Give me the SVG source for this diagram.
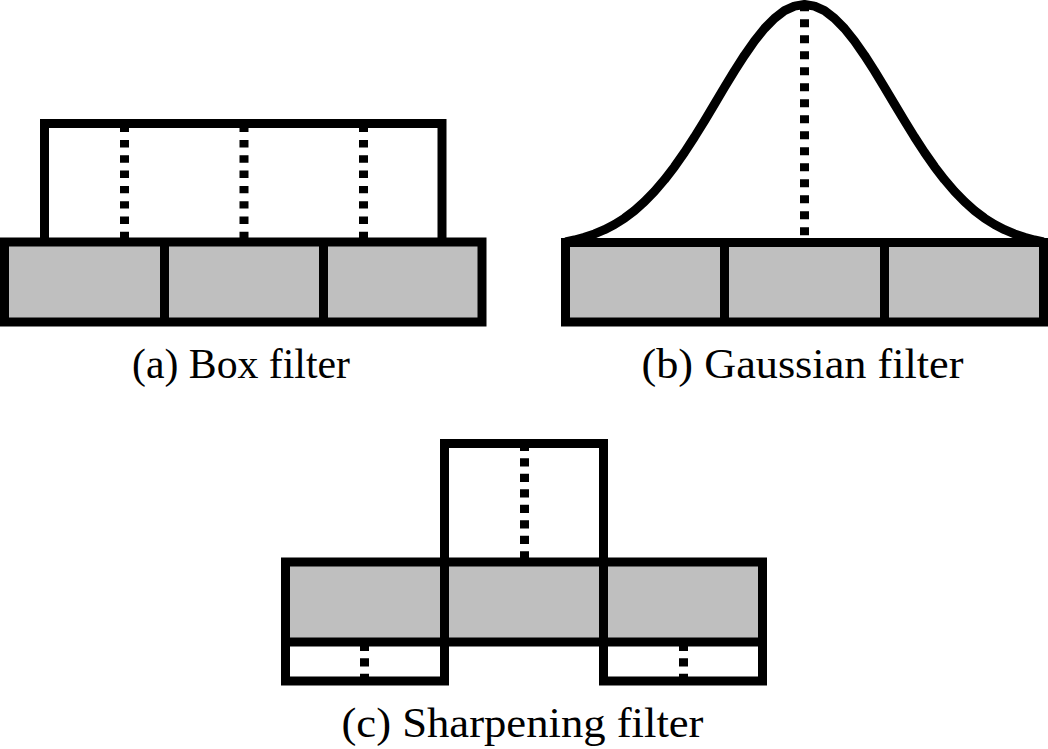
<svg xmlns="http://www.w3.org/2000/svg" width="1048" height="749" viewBox="0 0 1048 749">
  <style>
    .frame { fill: none; stroke: #000; stroke-width: 9; stroke-linejoin: miter; stroke-linecap: butt; }
    .cell { fill: #bfbfbf; stroke: #000; stroke-width: 9; stroke-linejoin: miter; }
    .div { stroke: #000; stroke-width: 9; }
    .dot { stroke: #000; stroke-width: 9; stroke-dasharray: 7.4 7.9; fill: none; }
    .dot2 { stroke: #000; stroke-width: 9; stroke-dasharray: 8 8; fill: none; }
    .dot3 { stroke: #000; stroke-width: 9; stroke-dasharray: 8.3 7.2; fill: none; }
    .curve { fill: none; stroke: #000; stroke-width: 9; stroke-linejoin: round; }
    .cap { font-family: "Liberation Serif", "Times New Roman", serif; font-size: 42px; fill: #000; text-anchor: middle; }
  </style>

  <g id="box-filter">
    <path class="frame" d="M44.5,242 V123.5 H442 V242"/>
    <line class="dot" x1="124.5" y1="124.7" x2="124.5" y2="242"/>
    <line class="dot" x1="244" y1="124.7" x2="244" y2="242"/>
    <line class="dot" x1="363.5" y1="124.7" x2="363.5" y2="242"/>
    <rect class="cell" x="4.5" y="242" width="477.5" height="80"/>
    <line class="div" x1="164.5" y1="242" x2="164.5" y2="322"/>
    <line class="div" x1="323.5" y1="242" x2="323.5" y2="322"/>
    <text class="cap" x="241" y="378" textLength="218" lengthAdjust="spacingAndGlyphs">(a) Box filter</text>
  </g>

  <g id="gaussian-filter">
    <path class="curve" d="M565.5,241.8 L574.5,240.0 L584.5,237.3 L594.5,233.9 L604.5,229.7 L614.5,224.5 L624.5,218.2 L634.5,210.6 L644.5,201.7 L654.5,191.4 L664.5,179.7 L674.5,166.7 L684.5,152.4 L694.5,137.0 L704.5,120.8 L714.5,104.1 L724.5,87.3 L734.5,70.9 L744.5,55.3 L754.5,41.0 L764.5,28.5 L774.5,18.3 L784.5,10.7 L794.5,6.1 L804.5,4.5 L814.5,6.1 L824.5,10.7 L834.5,18.3 L844.5,28.5 L854.5,41.0 L864.5,55.3 L874.5,70.9 L884.5,87.3 L894.5,104.1 L904.5,120.8 L914.5,137.0 L924.5,152.4 L934.5,166.7 L944.5,179.7 L954.5,191.4 L964.5,201.7 L974.5,210.6 L984.5,218.2 L994.5,224.5 L1004.5,229.7 L1014.5,233.9 L1024.5,237.3 L1034.5,240.0 L1043.5,241.8"/>
    <line class="dot2" x1="804.5" y1="3.3" x2="804.5" y2="242"/>
    <rect class="cell" x="565.5" y="242.5" width="478" height="79.5"/>
    <line class="div" x1="724.5" y1="242.5" x2="724.5" y2="322"/>
    <line class="div" x1="884.5" y1="242.5" x2="884.5" y2="322"/>
    <text class="cap" x="802.5" y="378" textLength="322" lengthAdjust="spacingAndGlyphs">(b) Gaussian filter</text>
  </g>

  <g id="sharpening-filter">
    <path class="frame" d="M444.5,562 V443.5 H603.5 V562"/>
    <line class="dot3" x1="524.5" y1="442.8" x2="524.5" y2="562"/>
    <path class="frame" d="M285.5,642 V681 H444.5 V642"/>
    <path class="frame" d="M603.5,642 V681 H762.5 V642"/>
    <line class="dot3" x1="364.5" y1="642.8" x2="364.5" y2="681"/>
    <line class="dot3" x1="683.5" y1="642.8" x2="683.5" y2="681"/>
    <rect class="cell" x="285.5" y="562" width="477" height="80"/>
    <line class="div" x1="444.5" y1="562" x2="444.5" y2="642"/>
    <line class="div" x1="603.5" y1="562" x2="603.5" y2="642"/>
    <text class="cap" x="522.5" y="736.5" textLength="362" lengthAdjust="spacingAndGlyphs">(c) Sharpening filter</text>
  </g>

  <g id="connectors"></g>
</svg>
